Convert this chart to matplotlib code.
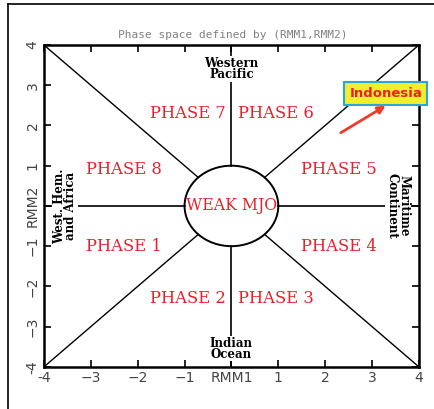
import numpy as np
import matplotlib
matplotlib.use("Agg")
import matplotlib.pyplot as plt
from matplotlib.lines import Line2D
from matplotlib.patches import Ellipse, FancyArrowPatch

# RMM phase diagram layout
ticks = [-4, -3, -2, -1, 0, 1, 2, 3, 4]
xtick_labels = ["-4", "\u22123", "\u22122", "\u22121", "RMM1", "1", "2", "3", "4"]
ytick_labels = ["-4", "\u22123", "\u22122", "\u22121", "RMM2", "1", "2", "3", "4"]

phase_names = ["PHASE 1", "PHASE 2", "PHASE 3", "PHASE 4",
               "PHASE 5", "PHASE 6", "PHASE 7", "PHASE 8"]
phase_x = [-2.3, -0.93, 0.95, 2.3, 2.3, 0.95, -0.93, -2.3]
phase_y = [-1.0, -2.3, -2.3, -1.0, 0.9, 2.3, 2.3, 0.9]

regions = ["Western\nPacific", "Indian\nOcean", "West. Hem.\nand Africa", "Maritime\nContinent"]
region_x = [0.0, 0.0, -3.55, 3.55]
region_y = [3.4, -3.55, 0.0, 0.0]
region_rot = [0, 0, 90, -90]

weak_radius = 1.0
lim = 4.0

fig = plt.figure(figsize=(4.35, 4.09), dpi=100)
fig.patch.set_facecolor("white")
ax = fig.add_axes([0.101, 0.103, 0.862, 0.787])
ax.set_xlim(-lim, lim)
ax.set_ylim(-lim, lim)

# weak-MJO circle and the spokes between phases
ax.add_patch(Ellipse((0, 0), 2 * weak_radius, 2 * weak_radius,
                     fill=False, lw=1.4, color="black", zorder=3))
d = weak_radius / np.sqrt(2)
for sx in (-1, 1):
    for sy in (-1, 1):
        ax.plot([sx * d, sx * lim], [sy * d, sy * lim], color="black", lw=1.0)
ax.plot([weak_radius, lim], [0, 0], color="black", lw=1.2)
ax.plot([-weak_radius, -lim], [0, 0], color="black", lw=1.2)
ax.plot([0, 0], [weak_radius, lim], color="black", lw=1.2)
ax.plot([0, 0], [-weak_radius, -lim], color="black", lw=1.2)

for name, x, y in zip(phase_names, phase_x, phase_y):
    ax.text(x, y, name, color="#e8202a", fontsize=11.8, family="DejaVu Serif",
            ha="center", va="center", bbox=dict(fc="white", ec="none", pad=0.5))
ax.text(0, 0, "WEAK MJO", color="#e8202a", fontsize=11.3, family="DejaVu Serif",
        ha="center", va="center", zorder=4)

for name, x, y, rot in zip(regions, region_x, region_y, region_rot):
    ax.text(x, y, name, fontsize=8.5, family="DejaVu Serif", fontweight="bold",
            ha="center", va="center", rotation=rot, linespacing=0.85,
            bbox=dict(fc="white", ec="none", pad=0.3))

ax.set_xticks(ticks)
ax.set_yticks(ticks)
ax.set_xticklabels(xtick_labels)
ax.set_yticklabels(ytick_labels, rotation=90, va="center")
ax.tick_params(direction="in", length=5, width=1.2, top=True, right=True,
               labelsize=10, labelcolor="#444444", pad=3)
for sp in ax.spines.values():
    sp.set_linewidth(1.8)

fig.text(0.534, 0.915, "Phase space defined by (RMM1,RMM2)", ha="center",
         va="center", fontsize=8, family="DejaVu Sans Mono", color="#808080")

# callout box and arrow
fig.text(0.887, 0.772, "Indonesia", ha="center", va="center", fontsize=9.5,
         fontweight="bold", color="#e8202a",
         bbox=dict(boxstyle="square,pad=0.38", fc="#f2ee2c", ec="#29a8d8", lw=1.5))
fig.add_artist(FancyArrowPatch(
    (0.778, 0.672), (0.892, 0.745), transform=fig.transFigure,
    arrowstyle="-|>", mutation_scale=11, color="#f03a2e", lw=2))

# page frame lines
fig.add_artist(Line2D([0.018, 1.0], [0.990, 0.990], color="black", lw=1.2,
                      transform=fig.transFigure))
fig.add_artist(Line2D([0.018, 0.018], [0.0, 0.990], color="black", lw=1.2,
                      transform=fig.transFigure))

fig.savefig("out.png", dpi=100)
